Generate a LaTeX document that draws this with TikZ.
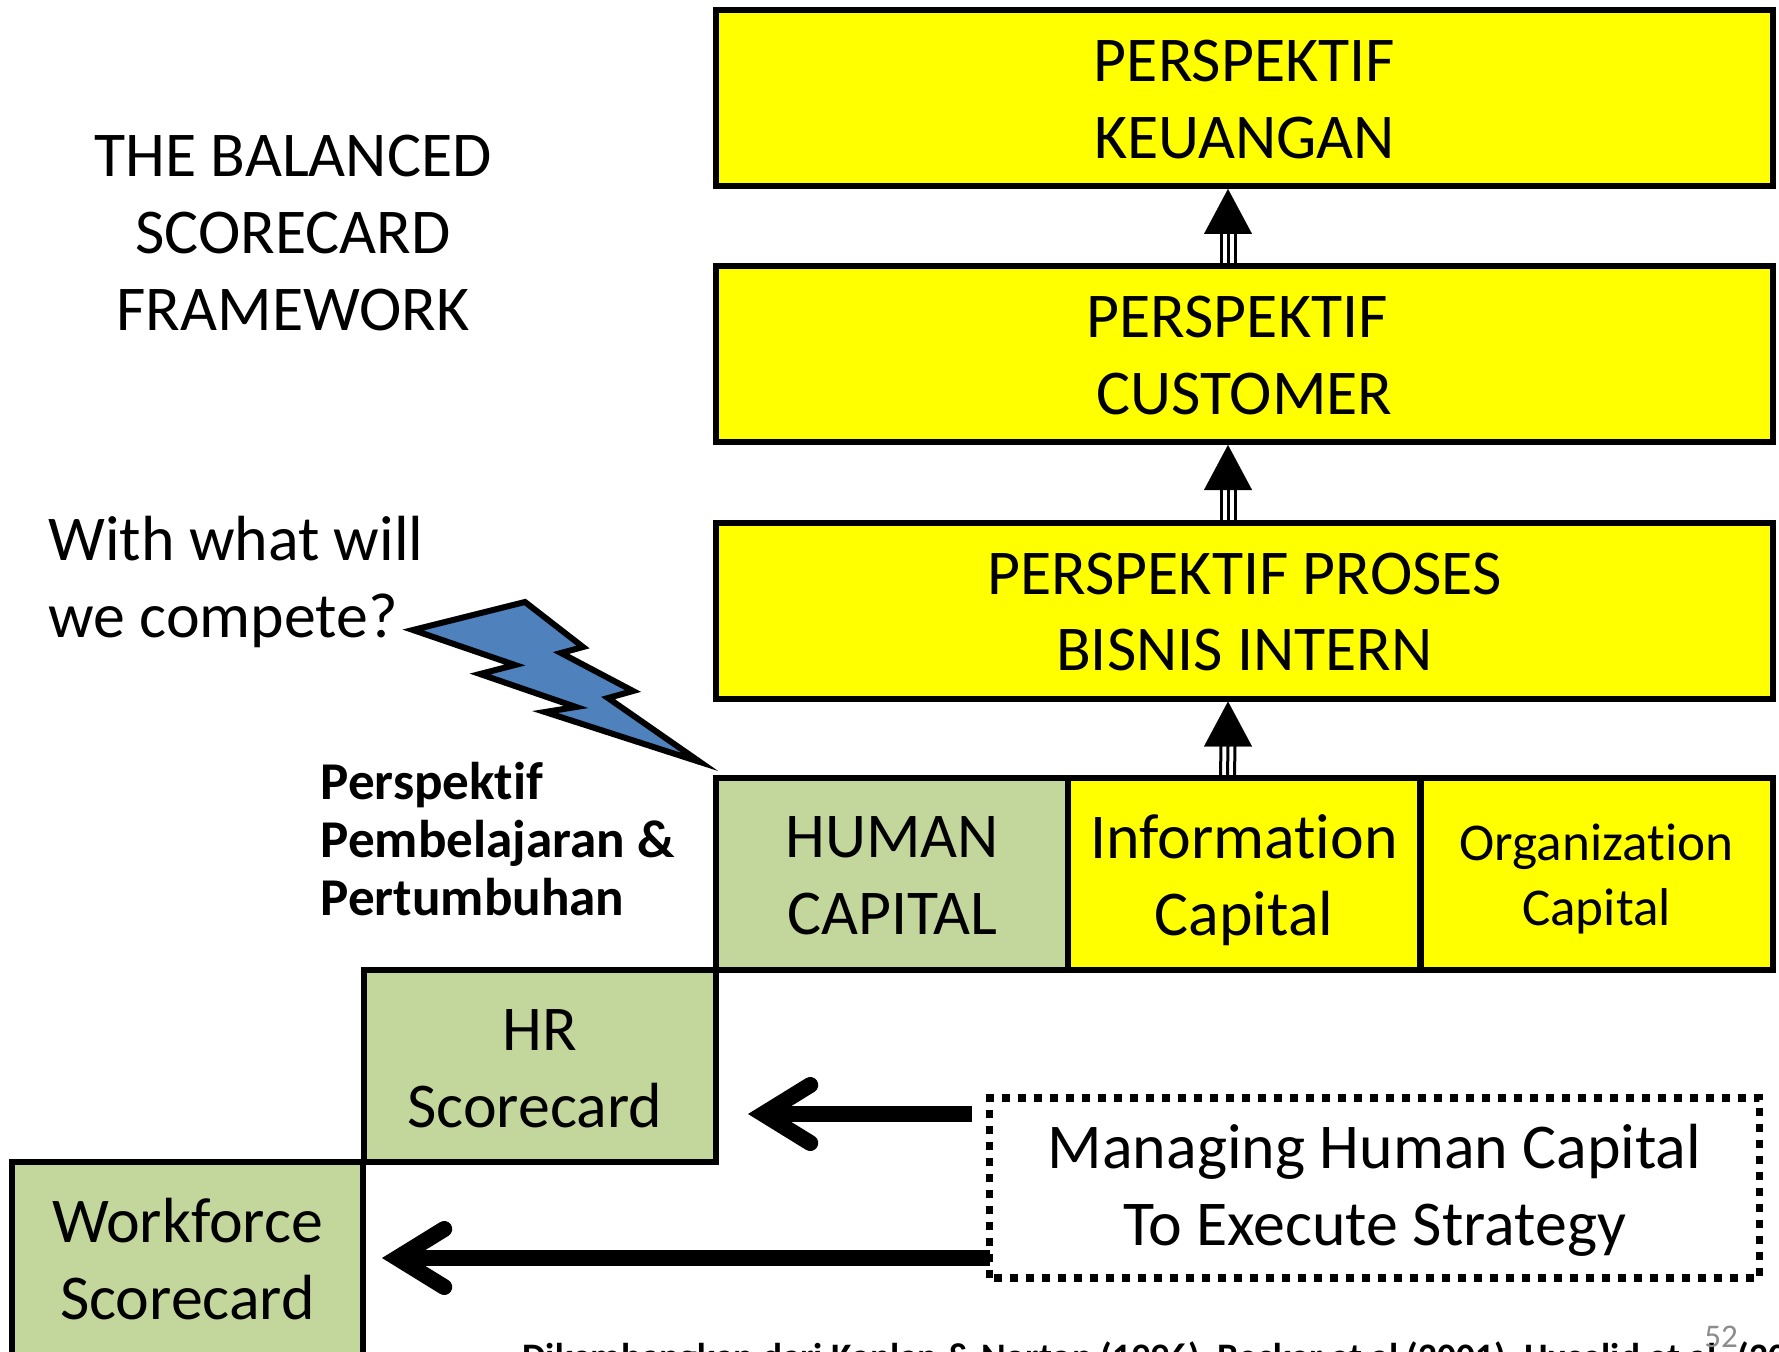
\documentclass[tikz,border=0pt]{standalone}
\usepackage{fontspec}
\setmainfont{Carlito}[Ligatures=NoCommon]
\usepackage{xcolor}
\usetikzlibrary{arrows.meta}
\definecolor{boxyellow}{HTML}{FFFF00}
\definecolor{boxgreen}{HTML}{C3D69B}
\definecolor{boltblue}{HTML}{4F81BD}
\definecolor{pagegray}{HTML}{8C8C8C}
\def\px{0.025cm}
\tikzset{
  x=\px, y=-\px,
  base/.style={draw=black, line width=6*\px, align=center, inner sep=0pt, text height=96pt, text depth=10pt, font=\fontsize{45.4}{54.5}\selectfont},
  yelbox/.style={base, fill=boxyellow, minimum width=1057*\px, minimum height=176*\px},
  cell/.style={base, minimum width=352*\px, minimum height=192*\px},
  lab/.style={align=center, inner sep=0pt, font=\fontsize{45.4}{54.5}\selectfont},
  labb/.style={align=left, inner sep=0pt, font=\fontsize{37.8}{41.2}\selectfont\bfseries},
  shaft/.style={draw=black, line width=3*\px},
  headup/.style={-{Triangle[length=45*\px, width=48*\px]}, draw=black, line width=0.1pt},
  bigarr/.style={draw=black, line width=16*\px, -{Straight Barb[line cap=round, line join=miter, length=47*\px, width=58*\px]}}
}
\begin{document}
\begin{tikzpicture}
  \clip (0,0) rectangle (1779,1352);
  % perspectives
  \node[yelbox] (keu) at (1244.5,98) {PERSPEKTIF\\KEUANGAN};
  \node[yelbox] (cust) at (1244.5,354) {PERSPEKTIF\kern0.23em\\CUSTOMER};
  \node[yelbox] (proses) at (1244.5,610.5) {PERSPEKTIF PROSES\\BISNIS INTERN};
  \node[cell, fill=boxgreen] (human) at (892,874) {HUMAN\\CAPITAL};
  \node[cell, fill=boxyellow, text height=97pt] (info) at (1244,874) {Information\\Capital};
  \node[cell, fill=boxyellow, text height=83pt, text depth=10pt, font=\fontsize{37.8}{46.1}\selectfont] (org) at (1596.5,874) {Organization\\Capital};
  \node[cell, fill=boxgreen, text height=97pt] (hr) at (539.5,1066) {HR\\Scorecard\kern0.15em};
  \node[cell, fill=boxgreen, text height=92.8pt, minimum width=351*\px, minimum height=198*\px] (work) at (187.5,1261) {Workforce\\Scorecard};
  \node[base, draw=none, outer sep=0pt, text height=91.2pt, minimum width=770*\px, minimum height=180*\px] (mhc) at (1374.5,1188) {Managing Human Capital\\To Execute Strategy};
  \draw[line width=7.5*\px, dash pattern=on 8*\px off 8*\px] (mhc.south west) rectangle (mhc.north east);
  % free texts
  \node[lab] (title) at (293,233) {THE BALANCED\\SCORECARD\\FRAMEWORK};
  \node[lab, align=left, anchor=west] (ask) at (48,582) {With what will\\we compete?};
  \node[labb, anchor=west] (pembel) at (320.5,839) {Perspektif\\Pembelajaran \&\\Pertumbuhan};
  \node[anchor=base west, inner sep=0pt, font=\fontsize{26.6}{32}\selectfont\bfseries] (cite) at (522,1369) {Dikembangkan dari Kaplan \& Norton (1996), Becker et al (2001), Huselid et al. (2005)};
  \node[anchor=base west, inner sep=0pt, text=pagegray, font=\fontsize{23.5}{28}\selectfont] (page) at (1704,1347) {52};
  % bolt
  \draw[draw=black, fill=boltblue, line width=6*\px, miter limit=20] (413,630) -- (525,602) -- (583,647) -- (561,653) -- (633,691) -- (608,698) -- (700,762)
    -- (545,712) -- (576,707) -- (480,674) -- (515,665) -- cycle;
  % triple arrows
  \foreach \a/\b in {cust/keu, proses/cust, info/proses} {
    \foreach \dx in {-7,0,7}
      \draw[shaft] ([xshift=(\dx-16.5)*\px]\a.north) -- ([xshift=(\dx-16.5)*\px, yshift=-44*\px]\b.south);
    \draw[headup] ([xshift=-16.5*\px, yshift=-44*\px]\b.south) -- ([xshift=-16.5*\px]\b.south);
  }
  % managing arrows
  \coordinate (hrin) at (748,1114);
  \coordinate (hrout) at (972,1114);
  \coordinate (workin) at (382,1258);
  \draw[bigarr] (hrout) -- (hrin);
  \draw[bigarr] (mhc.west |- workin) -- (workin);
\end{tikzpicture}
\end{document}
